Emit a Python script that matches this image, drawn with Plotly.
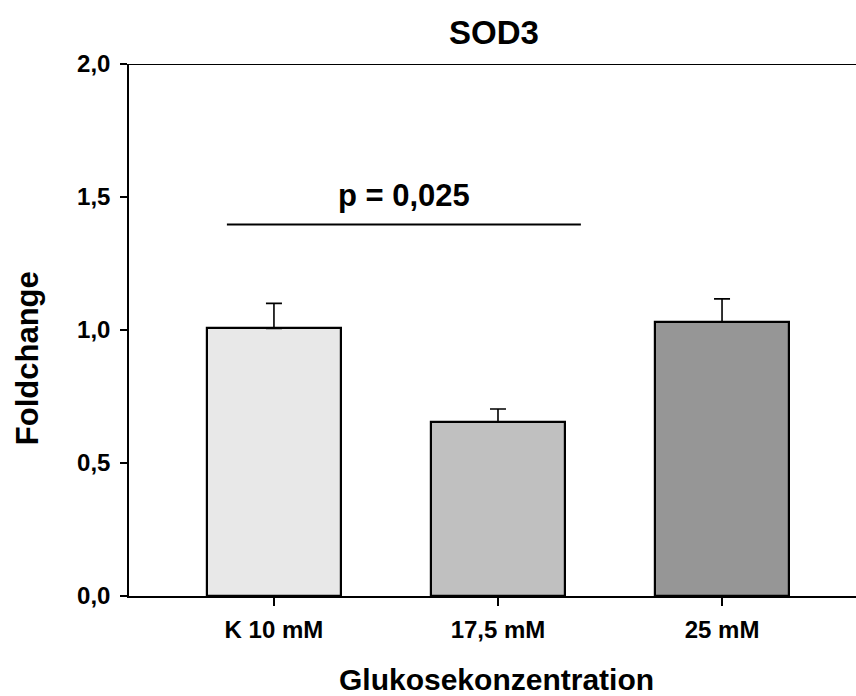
import plotly.graph_objects as go

# Data
categories = ["K 10 mM", "17,5 mM", "25 mM"]
foldchange = [1.006, 0.654, 1.029]
error_up = [0.094, 0.049, 0.088]
bar_colors = ["#e8e8e8", "#c0c0c0", "#969696"]
y_tickvals = [0.0, 0.5, 1.0, 1.5, 2.0]
y_ticktext = ["0,0", "0,5", "1,0", "1,5", "2,0"]
p_label = "p = 0,025"
p_line_span = [-0.21, 1.37]
p_line_level = 1.397

FONT = "Liberation Sans, Arial, Helvetica, sans-serif"
x_pos = list(range(len(categories)))

fig = go.Figure()
fig.add_trace(go.Bar(
    x=x_pos,
    y=foldchange,
    width=0.6,
    marker=dict(color=bar_colors, line=dict(color="black", width=2.2)),
    error_y=dict(type="data", array=error_up, arrayminus=[0] * len(error_up),
                 symmetric=False, color="black", thickness=1.6, width=8),
    showlegend=False,
    hoverinfo="skip",
))

# significance bracket line
fig.add_shape(type="line", xref="x", yref="y",
              x0=p_line_span[0], x1=p_line_span[1],
              y0=p_line_level, y1=p_line_level,
              line=dict(color="black", width=2))
# top frame line
fig.add_shape(type="line", xref="paper", yref="y", x0=0, x1=1, y0=2.0, y1=2.0,
              line=dict(color="black", width=2))

fig.add_annotation(text=p_label, x=0.58, y=1.505, xref="x", yref="y",
                   showarrow=False, xanchor="center", yanchor="middle",
                   font=dict(family=FONT, size=31, color="black", weight="bold"))
fig.add_annotation(text="SOD3", x=0.502, y=1.06, xref="paper", yref="paper",
                   showarrow=False, xanchor="center", yanchor="middle",
                   font=dict(family=FONT, size=33, color="black", weight="bold"))
fig.add_annotation(text="Foldchange", x=-0.1403, y=0.447, xref="paper", yref="paper",
                   showarrow=False, xanchor="center", yanchor="middle", textangle=-90,
                   font=dict(family=FONT, size=31, color="black", weight="bold"))
fig.add_annotation(text="Glukosekonzentration", x=0.506, y=-0.157, xref="paper", yref="paper",
                   showarrow=False, xanchor="center", yanchor="middle",
                   font=dict(family=FONT, size=30, color="black", weight="bold"))

fig.update_layout(
    width=856, height=696,
    margin=dict(l=129, r=0, t=64, b=100),
    paper_bgcolor="white", plot_bgcolor="white",
    font=dict(family=FONT, color="black"),
    bargap=0,
)
fig.update_xaxes(
    range=[-0.647, 2.598], tickvals=x_pos, ticktext=categories,
    showgrid=False, zeroline=False, showline=True, linecolor="black", linewidth=2,
    ticks="outside", ticklen=8, tickwidth=1.5, tickcolor="black",
    ticklabelstandoff=3,
    tickfont=dict(family=FONT, size=24, color="black", weight="bold"),
)
fig.update_yaxes(
    range=[0, 2.0], tickvals=y_tickvals, ticktext=y_ticktext,
    showgrid=False, zeroline=False, showline=True, linecolor="black", linewidth=1.5,
    ticks="outside", ticklen=7, tickwidth=1.5, tickcolor="black",
    ticklabelstandoff=5,
    tickfont=dict(family=FONT, size=24, color="black", weight="bold"),
)

fig.write_html("out.html")
